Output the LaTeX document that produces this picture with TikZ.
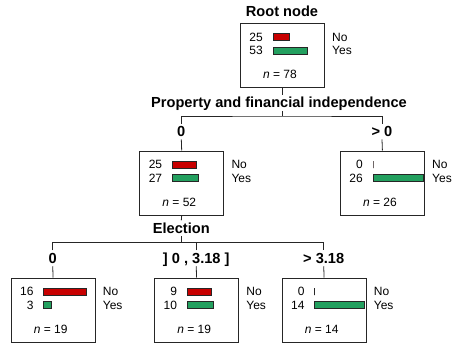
\documentclass[tikz,border=0pt]{standalone}
\usepackage{fontspec}
\setmainfont{Liberation Sans}
\definecolor{nored}{RGB}{200,0,0}
\definecolor{yesgreen}{RGB}{35,160,95}

\tikzset{
  panel/.style={draw=black!85, line width=0.8pt, minimum width=84pt, minimum height=64pt, inner sep=0pt, anchor=north west},
  cnt/.style={font=\fontsize{12}{14}\selectfont, inner sep=0pt, anchor=east},
  cls/.style={font=\fontsize{12}{14}\selectfont, inner sep=0pt, anchor=west},
  cntbar/.style={draw=black!85, line width=0.6pt},
  head/.style={font=\fontsize{14.6}{16}\selectfont\bfseries, inner sep=2.5pt, text height=10pt, text depth=0.5pt},
  link/.style={draw=black!85, line width=0.8pt}
}

% one panel: name, left, top, count No, count Yes, n
\newcommand{\probpanel}[6]{%
  \node[panel] (#1) at (#2,#3) {};
  \pgfmathsetmacro{\wno}{50*#4/#6}
  \pgfmathsetmacro{\wyes}{50*#5/#6}
  \node[cnt] at (#2+23,#3+14) {#4};
  \node[cnt] at (#2+23,#3+27.5) {#5};
  \draw[cntbar, fill=nored] (#2+33,#3+10.5) rectangle ++(\wno,7);
  \draw[cntbar, fill=yesgreen] (#2+33,#3+24) rectangle ++(\wyes,7);
  \node[cls] at (#2+92,#3+14) {No};
  \node[cls] at (#2+92,#3+27.5) {Yes};
  \node[cnt, anchor=center] at (#2+40,#3+51.5) {\textit{n} = #6};
}

\begin{document}
\begin{tikzpicture}[x=1pt, y=-1pt]
    \useasboundingbox (0,0) rectangle (452,345);

    % Root
    \node[head] (rootlab) at (282,11.5) {Root node};
    \probpanel{root}{240}{23}{25}{53}{78}

    % First split
    \node[head] (split1) at (279,103) {Property and financial independence};
    \coordinate (j1) at (282,116);
    \node[head] (b1) at (181.3,131.5) {0};
    \node[head] (b2) at (382,131.5) {> 0};
    \probpanel{n2}{139.3}{150.5}{25}{27}{52}
    \probpanel{n3}{340}{150.5}{0}{26}{26}

    % Second split
    \node[head] (split2) at (181.3,228.3) {Election};
    \coordinate (j2) at (181.3,242.3);
    \node[head] (b3) at (52.7,258.3) {0};
    \node[head] (b4) at (196.2,258.3) {] 0 , 3.18 ]};
    \node[head] (b5) at (323.7,258.3) {> 3.18};
    \probpanel{n4}{10.7}{277.5}{16}{3}{19}
    \probpanel{n5}{154.2}{277.5}{9}{10}{19}
    \probpanel{n6}{281.7}{277.5}{0}{14}{14}

    % Connectors
    \draw[link] (root.south) -- (root.south |- split1.north);
    \draw[link] (j1 |- split1.south) -- (j1);
    \draw[link] (b1.north) |- (j1) -| (b2.north);
    \draw[link] (b1.south) -- (n2.north);
    \draw[link] (b2.south) -- (n3.north);

    \draw[link] (n2.south) -- (split2.north);
    \draw[link] (split2.south) -- (j2);
    \draw[link] (b3.north) |- (j2) -| (b5.north);
    \draw[link] (b4.north) -- (b4.north |- j2);
    \draw[link] (b3.south) -- (n4.north);
    \draw[link] (b4.south) -- (n5.north);
    \draw[link] (b5.south) -- (n6.north);
\end{tikzpicture}
\end{document}
